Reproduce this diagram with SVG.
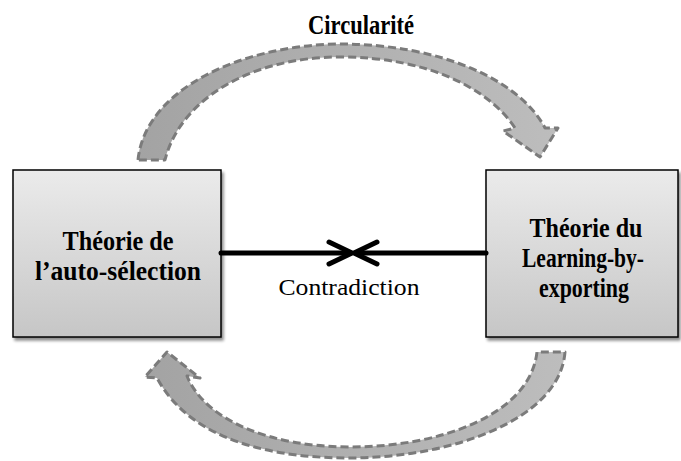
<svg xmlns="http://www.w3.org/2000/svg" width="681" height="461" viewBox="0 0 681 461">
<defs>
<linearGradient id="boxg" x1="0" y1="0" x2="0" y2="1">
<stop offset="0" stop-color="#ebebeb"/>
<stop offset="1" stop-color="#c6c6c6"/>
</linearGradient>
<linearGradient id="arrg" x1="0" y1="0" x2="1" y2="0">
<stop offset="0" stop-color="#a3a3a3"/>
<stop offset="1" stop-color="#bdbdbd"/>
</linearGradient>
<filter id="sh" x="-10%" y="-10%" width="130%" height="130%">
<feGaussianBlur in="SourceAlpha" stdDeviation="1.5"/>
<feOffset dx="2" dy="3" result="b"/>
<feComponentTransfer><feFuncA type="linear" slope="0.45"/></feComponentTransfer>
<feMerge><feMergeNode/><feMergeNode in="SourceGraphic"/></feMerge>
</filter>
</defs>
<style>
.box{fill:url(#boxg);stroke:#000;stroke-width:1.5;filter:url(#sh)}
.t{font-family:"Liberation Serif","Times New Roman",serif;font-weight:bold;font-size:27px;fill:#000;text-anchor:middle}
.lab{font-family:"Liberation Serif","Times New Roman",serif;font-size:23px;fill:#000;text-anchor:middle}
.arc{fill:url(#arrg);stroke:#7b7b7b;stroke-width:3;stroke-dasharray:8 4;stroke-linejoin:round}
.ln{fill:none;stroke:#000;stroke-width:5;stroke-linecap:round;stroke-linejoin:round}
</style>
<text class="t" x="361" y="34" textLength="106" lengthAdjust="spacingAndGlyphs">Circularité</text>
<g id="arc-top">
<path class="arc" d="M138,160 C145,90 240,45 340,44 C440,44 520,80 545,128 L558,128 L540,157 L503,131 L515,128 C490,90 430,57 340,57 C250,57 180,100 165,160 Z"/>
</g>
<g id="arc-bottom">
<path class="arc" d="M565,352 C560,420 450,458 350,458 C250,458 185,430 157,378 L145,377 L167,352 L200,378 L187,376 C205,420 270,447 350,447 C440,447 530,415 537,352 Z"/>
</g>
<g id="node-auto-selection">
<rect class="box" x="13" y="170" width="208" height="167"/>
<text class="t" x="118" y="250" textLength="111" lengthAdjust="spacingAndGlyphs">Théorie de</text>
<text class="t" x="118" y="280" textLength="166" lengthAdjust="spacingAndGlyphs">l’auto-sélection</text>
</g>
<g id="node-learning">
<rect class="box" x="486" y="170" width="192" height="167"/>
<text class="t" x="586" y="237" textLength="113" lengthAdjust="spacingAndGlyphs">Théorie du</text>
<text class="t" x="583" y="267" textLength="122" lengthAdjust="spacingAndGlyphs">Learning-by-</text>
<text class="t" x="584" y="297" textLength="90" lengthAdjust="spacingAndGlyphs">exporting</text>
</g>
<g id="connectors">
<line class="ln" x1="221" y1="253" x2="350" y2="253"/>
<polyline class="ln" points="329,242 352,253 329,264"/>
<line class="ln" x1="356" y1="253" x2="486" y2="253"/>
<polyline class="ln" points="377,242 354,253 377,264"/>
<text class="lab" x="349" y="295" textLength="141" lengthAdjust="spacingAndGlyphs">Contradiction</text>
</g>
</svg>
